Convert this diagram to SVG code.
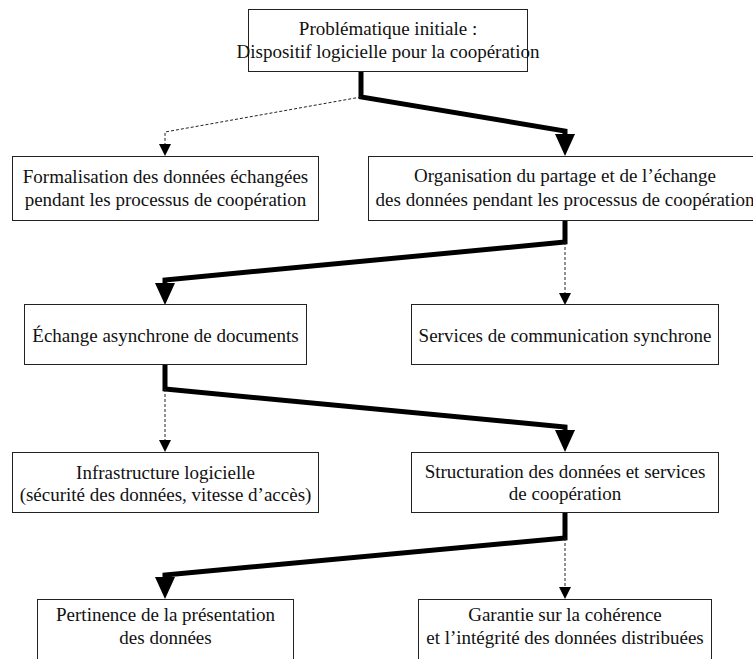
<svg xmlns="http://www.w3.org/2000/svg" width="753" height="659" viewBox="0 0 753 659">
<defs>
<style>
.box{fill:#fff;stroke:#222;stroke-width:1}
.t{font-size:19px;fill:#111;text-anchor:middle}
.thick{fill:none;stroke:#000;stroke-width:5;stroke-linejoin:miter}
.dash{fill:none;stroke:#222;stroke-width:1;stroke-dasharray:3 2}
</style>
<marker id="bigArrow" viewBox="0 0 22 20" refX="0" refY="10" markerWidth="22" markerHeight="20" markerUnits="userSpaceOnUse" orient="auto">
<polygon points="0,0 22,10 0,20" fill="#000"/>
</marker>
<marker id="smallArrow" viewBox="0 0 12 12" refX="0" refY="6" markerWidth="12" markerHeight="12" markerUnits="userSpaceOnUse" orient="auto">
<polygon points="0,0 12,6 0,12" fill="#000"/>
</marker>
</defs>
<rect width="753" height="659" fill="#fff"/>
<g id="connectors">
<path class="thick" d="M361,71 V97 L565,131 V134" marker-end="url(#bigArrow)"/>
<path class="dash" d="M361,97 L165,132 V144" marker-end="url(#smallArrow)"/>
<path class="thick" d="M565,220 V242 L165,280 V283" marker-end="url(#bigArrow)"/>
<path class="dash" d="M565,242 V293" marker-end="url(#smallArrow)"/>
<path class="thick" d="M165,365 V389 L565,427 V430" marker-end="url(#bigArrow)"/>
<path class="dash" d="M165,389 V440" marker-end="url(#smallArrow)"/>
<path class="thick" d="M565,513 V538 L165,575 V577" marker-end="url(#bigArrow)"/>
<path class="dash" d="M565,538 V587" marker-end="url(#smallArrow)"/>
</g>
<g font-family="Liberation Serif, Times New Roman, serif">
<g id="n-top">
<rect class="box" x="248.5" y="9.5" width="279" height="62"/>
<text class="t" x="388" y="35">Problématique initiale :</text>
<text class="t" x="388" y="58">Dispositif logicielle pour la coopération</text>
</g>
<g id="n-formalisation">
<rect class="box" x="12.5" y="156.5" width="306" height="64"/>
<text class="t" x="165.5" y="183">Formalisation des données échangées</text>
<text class="t" x="165.5" y="206">pendant les processus de coopération</text>
</g>
<g id="n-organisation">
<rect class="box" x="368.5" y="156.5" width="400" height="64"/>
<text class="t" x="565" y="182">Organisation du partage et de l’échange</text>
<text class="t" x="565" y="206">des données pendant les processus de coopération</text>
</g>
<g id="n-echange">
<rect class="box" x="24.5" y="304.5" width="282" height="60"/>
<text class="t" x="165.5" y="342">Échange asynchrone de documents</text>
</g>
<g id="n-services">
<rect class="box" x="411.5" y="304.5" width="307" height="60"/>
<text class="t" x="565" y="342">Services de communication synchrone</text>
</g>
<g id="n-infrastructure">
<rect class="box" x="12.5" y="452.5" width="306" height="60"/>
<text class="t" x="165.5" y="479">Infrastructure logicielle</text>
<text class="t" x="165.5" y="501">(sécurité des données, vitesse d’accès)</text>
</g>
<g id="n-structuration">
<rect class="box" x="411.5" y="452.5" width="307" height="60"/>
<text class="t" x="565" y="478">Structuration des données et services</text>
<text class="t" x="565" y="500">de coopération</text>
</g>
<g id="n-pertinence">
<rect class="box" x="37.5" y="599.5" width="256" height="80"/>
<text class="t" x="165.5" y="621">Pertinence de la présentation</text>
<text class="t" x="165.5" y="644">des données</text>
</g>
<g id="n-garantie">
<rect class="box" x="418.5" y="599.5" width="293" height="80"/>
<text class="t" x="565" y="621">Garantie sur la cohérence</text>
<text class="t" x="565" y="644">et l’intégrité des données distribuées</text>
</g>
</g>
</svg>
